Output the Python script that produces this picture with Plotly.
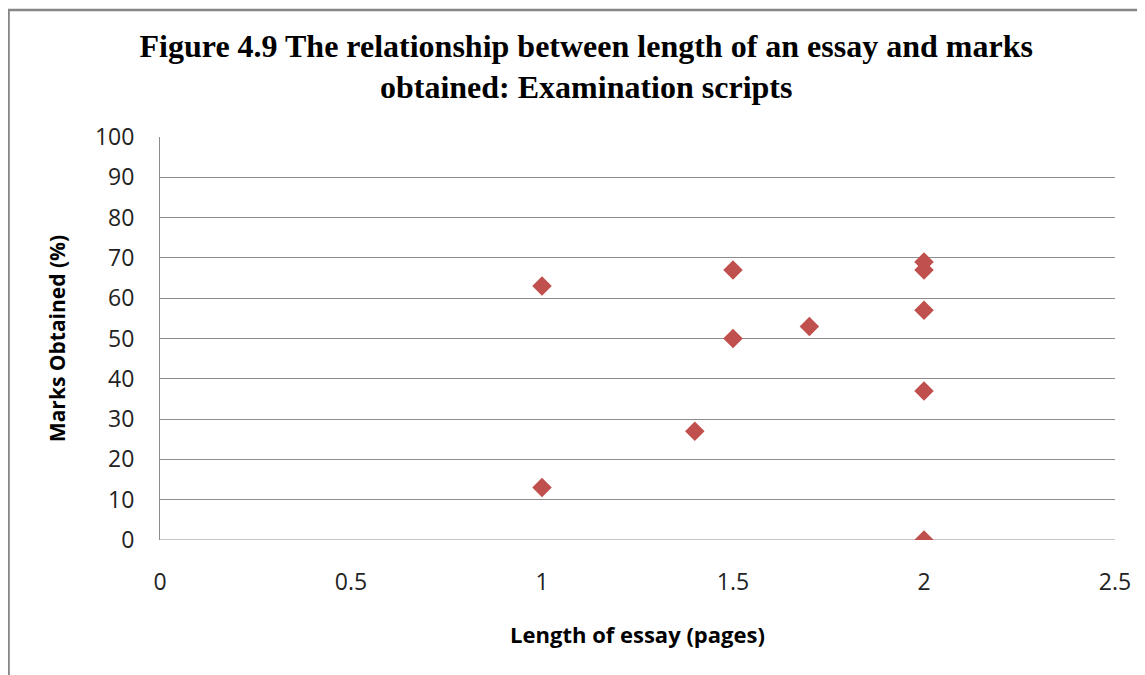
import plotly.graph_objects as go

# essay length (pages) vs marks (%)
essay_length = [1, 1, 1.4, 1.5, 1.5, 1.7, 2, 2, 2, 2, 2]
marks = [63, 13, 27, 67, 50, 53, 69, 67, 57, 37, 0]

title_text = ("<b>Figure 4.9 The relationship between length of an essay and marks<br>"
              "obtained: Examination scripts</b>")

fig = go.Figure()
fig.add_trace(go.Scatter(
    x=essay_length, y=marks, mode='markers',
    marker=dict(symbol='diamond', size=15, color='#C0504D'),
    showlegend=False,
))

# chart outer border (as in the original, cut at the right/bottom)
fig.add_shape(type='rect', xref='paper', yref='paper',
              x0=-0.1586, x1=1.05, y0=-0.4, y1=1.315,
              line=dict(color='#868686', width=2.5), layer='below')

fig.update_layout(
    width=1145, height=675,
    margin=dict(l=152, r=38, t=129, b=143),
    paper_bgcolor='white', plot_bgcolor='white',
    title=dict(text=title_text, x=0.505, xanchor='center', y=0.928, yanchor='top',
               font=dict(family='Liberation Serif', size=32, color='black')),
    font=dict(family='Open Sans', color='black'),
)
fig.update_xaxes(
    range=[0, 2.5], dtick=0.5, showgrid=False, zeroline=False,
    showline=False, ticks='outside', ticklen=21, tickcolor='rgba(0,0,0,0)',
    tickfont=dict(size=23, color='#222'),
    title=dict(text='<b>Length of essay (pages)</b>', standoff=32,
               font=dict(size=22, color='black')),
)
fig.update_yaxes(
    range=[0, 100], dtick=10, showgrid=True, gridcolor='#8C8C8C', gridwidth=1,
    zeroline=False, showline=True, linecolor='#8C8C8C', linewidth=1,
    ticks='outside', ticklen=20, tickcolor='rgba(0,0,0,0)',
    tickfont=dict(size=23, color='#222'),
    title=dict(text='<b>Marks Obtained (%)</b>', standoff=23,
               font=dict(size=21, color='black')),
)
# bottom axis line at y=0
fig.add_hline(y=0, line=dict(color='#8C8C8C', width=1), layer='below')

fig.write_html("out.html")
